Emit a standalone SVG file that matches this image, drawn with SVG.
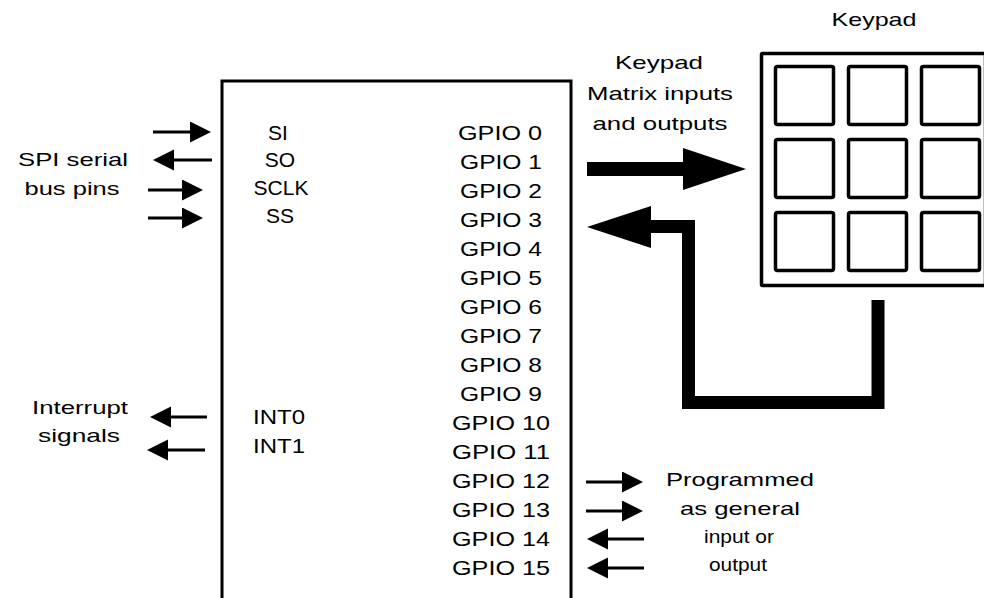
<svg xmlns="http://www.w3.org/2000/svg" width="984" height="598" viewBox="0 0 984 598">
  <style>
    .pin { font-family: "Liberation Sans", Arial, sans-serif; font-size: 21px; fill: #000; text-anchor: middle; }
    .lbl { font-family: "Liberation Sans", Arial, sans-serif; font-size: 19px; fill: #000; text-anchor: middle; }
    .thin { stroke: #000; stroke-width: 3; fill: none; marker-end: url(#head); }
    .box { fill: #fff; stroke: #000; stroke-width: 3; }
    .key { fill: #fff; stroke: #000; stroke-width: 3.5; }
    .bus { fill: none; stroke: #000; stroke-width: 13; stroke-linejoin: miter; }
  </style>
  <defs>
    <marker id="head" markerUnits="userSpaceOnUse" markerWidth="22" markerHeight="22" refX="8" refY="10.5" orient="auto">
      <path d="M0,0 L21,10.5 L0,21 Z" fill="#000"/>
    </marker>
  </defs>

  <rect width="984" height="598" fill="#fff"/>

  <!-- chip body with its pin names -->
  <g id="chip">
    <rect class="box" x="222" y="81" width="349" height="540"/>
    <text class="pin" x="278" y="140">SI</text>
    <text class="pin" x="280" y="167">SO</text>
    <text class="pin" x="281" y="195">SCLK</text>
    <text class="pin" x="280" y="223">SS</text>
    <text class="pin" x="279" y="424" textLength="52" lengthAdjust="spacingAndGlyphs">INT0</text>
    <text class="pin" x="279" y="453" textLength="52" lengthAdjust="spacingAndGlyphs">INT1</text>
    <text class="pin" x="500" y="140" textLength="84" lengthAdjust="spacingAndGlyphs">GPIO 0</text>
    <text class="pin" x="501" y="169" textLength="82" lengthAdjust="spacingAndGlyphs">GPIO 1</text>
    <text class="pin" x="501" y="198" textLength="82" lengthAdjust="spacingAndGlyphs">GPIO 2</text>
    <text class="pin" x="501" y="227" textLength="82" lengthAdjust="spacingAndGlyphs">GPIO 3</text>
    <text class="pin" x="501" y="256" textLength="82" lengthAdjust="spacingAndGlyphs">GPIO 4</text>
    <text class="pin" x="501" y="285" textLength="82" lengthAdjust="spacingAndGlyphs">GPIO 5</text>
    <text class="pin" x="501" y="314" textLength="82" lengthAdjust="spacingAndGlyphs">GPIO 6</text>
    <text class="pin" x="501" y="343" textLength="82" lengthAdjust="spacingAndGlyphs">GPIO 7</text>
    <text class="pin" x="501" y="372" textLength="82" lengthAdjust="spacingAndGlyphs">GPIO 8</text>
    <text class="pin" x="501" y="401" textLength="82" lengthAdjust="spacingAndGlyphs">GPIO 9</text>
    <text class="pin" x="501" y="430" textLength="98" lengthAdjust="spacingAndGlyphs">GPIO 10</text>
    <text class="pin" x="501" y="459" textLength="98" lengthAdjust="spacingAndGlyphs">GPIO 11</text>
    <text class="pin" x="501" y="488" textLength="98" lengthAdjust="spacingAndGlyphs">GPIO 12</text>
    <text class="pin" x="501" y="517" textLength="98" lengthAdjust="spacingAndGlyphs">GPIO 13</text>
    <text class="pin" x="501" y="546" textLength="98" lengthAdjust="spacingAndGlyphs">GPIO 14</text>
    <text class="pin" x="501" y="575" textLength="98" lengthAdjust="spacingAndGlyphs">GPIO 15</text>
  </g>

  <!-- keypad matrix -->
  <g id="keypad">
    <text class="lbl" x="874" y="26" textLength="85" lengthAdjust="spacingAndGlyphs">Keypad</text>
    <rect class="key" x="761.5" y="53.5" width="224" height="232" rx="1"/>
    <rect class="key" x="775.5" y="66.5" width="58" height="58" rx="2"/>
    <rect class="key" x="848.5" y="66.5" width="58" height="58" rx="2"/>
    <rect class="key" x="921.5" y="66.5" width="58" height="58" rx="2"/>
    <rect class="key" x="775.5" y="139.5" width="58" height="58" rx="2"/>
    <rect class="key" x="848.5" y="139.5" width="58" height="58" rx="2"/>
    <rect class="key" x="921.5" y="139.5" width="58" height="58" rx="2"/>
    <rect class="key" x="775.5" y="212.5" width="58" height="58" rx="2"/>
    <rect class="key" x="848.5" y="212.5" width="58" height="58" rx="2"/>
    <rect class="key" x="921.5" y="212.5" width="58" height="58" rx="2"/>
  </g>

  <!-- side labels -->
  <g id="spi-label">
    <text class="lbl" x="73" y="166" textLength="110" lengthAdjust="spacingAndGlyphs">SPI serial</text>
    <text class="lbl" x="72" y="195" textLength="95" lengthAdjust="spacingAndGlyphs">bus pins</text>
  </g>
  <g id="int-label">
    <text class="lbl" x="80" y="414" textLength="96" lengthAdjust="spacingAndGlyphs">Interrupt</text>
    <text class="lbl" x="79" y="442" textLength="82" lengthAdjust="spacingAndGlyphs">signals</text>
  </g>
  <g id="matrix-label">
    <text class="lbl" x="659" y="69" textLength="88" lengthAdjust="spacingAndGlyphs">Keypad</text>
    <text class="lbl" x="660" y="100" textLength="146" lengthAdjust="spacingAndGlyphs">Matrix inputs</text>
    <text class="lbl" x="660" y="130" textLength="135" lengthAdjust="spacingAndGlyphs">and outputs</text>
  </g>
  <g id="gpio-label">
    <text class="lbl" x="740" y="486" textLength="148" lengthAdjust="spacingAndGlyphs">Programmed</text>
    <text class="lbl" x="740" y="515" textLength="120" lengthAdjust="spacingAndGlyphs">as general</text>
    <text class="lbl" x="739" y="543" textLength="70" lengthAdjust="spacingAndGlyphs">input or</text>
    <text class="lbl" x="738" y="571" textLength="58" lengthAdjust="spacingAndGlyphs">output</text>
  </g>

  <!-- connectors -->
  <g id="connectors">
    <line class="thin" x1="153" y1="132" x2="198" y2="132"/>
    <line class="thin" x1="212" y1="160" x2="166" y2="160"/>
    <line class="thin" x1="148" y1="190" x2="190" y2="190"/>
    <line class="thin" x1="148" y1="218" x2="190" y2="218"/>
    <line class="thin" x1="207" y1="417" x2="163" y2="417"/>
    <line class="thin" x1="205" y1="450" x2="160" y2="450"/>
    <line class="thin" x1="586" y1="482" x2="630" y2="482"/>
    <line class="thin" x1="586" y1="511" x2="630" y2="511"/>
    <line class="thin" x1="644" y1="539" x2="600" y2="539"/>
    <line class="thin" x1="644" y1="568" x2="600" y2="568"/>

    <!-- matrix drive out to keypad -->
    <polygon points="587,162 683,162 683,148 746,169 683,190 683,176 587,176" fill="#000"/>
    <!-- matrix return from keypad -->
    <polyline class="bus" points="878,300 878,402.5 688.5,402.5 688.5,226.5 648,226.5"/>
    <polygon points="651,206 587,227 651,248" fill="#000"/>
  </g>
</svg>
